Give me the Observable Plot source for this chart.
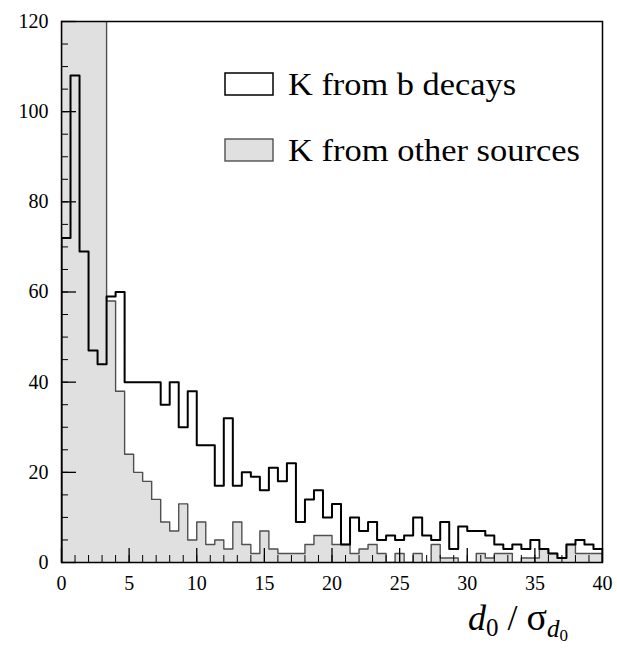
<!DOCTYPE html>
<html><head><meta charset="utf-8">
<script src="https://cdn.jsdelivr.net/npm/d3@7"></script>
<script src="https://cdn.jsdelivr.net/npm/@observablehq/plot@0.6"></script>
<style>
body{margin:0;background:#fff}
#chart{width:617px;height:648px}
#chart svg, #chart svg text { font-family: "Liberation Serif", "Times New Roman", serif !important; }
</style>
</head><body><div id="chart"></div>
<script>
// ---- data ----
const binWidth = 2/3;            // 60 bins over 0..40
const bDecays = [72,108,69,47,44,59,60,40,40,40,40,35,40,30,38,26,26,17,32,17,
                 20,19,16,21,18,22,9,14,16,10,13,4,10,7,9,5,6,5,6,10,
                 6,5,9,3,8,7,7,6,4,3,4,3,5,3,2,1,4,5,4,3];
const otherSources = [200,180,160,140,125,58,38,24,20,18,14,9,7,13,5,9,4,5,3,9,
                      4,2,7,3,2,2,2,4,6,6,4,4,2,3,4,2,0,2,0,2,
                      0,4,1,1,0,0,2,1,2,2,0,1,1,3,2,1,4,2,2,2];
const xTickLabels = [0,5,10,15,20,25,30,35,40];
const yTickLabels = [0,20,40,60,80,100,120];
const legendLabels = ["K from b decays", "K from other sources"];

// ---- layout ----
const W = 617, H = 648, mL = 61, mR = 15, mT = 21, mB = 86;
const innerW = W - mL - mR, innerH = H - mT - mB;

function outline(values) {
  const pts = [{x: 0, y: 0}];
  values.forEach((v, i) => pts.push({x: i * binWidth, y: v}));
  const end = values.length * binWidth;
  pts.push({x: end, y: values[values.length - 1]});
  pts.push({x: end, y: 0});
  return pts;
}
function areaPts(values) {
  const pts = values.map((v, i) => ({x: i * binWidth, y: v}));
  pts.push({x: values.length * binWidth, y: values[values.length - 1]});
  return pts;
}

const xMinor = d3.range(0, 41, 1);
const yMinor = d3.range(0, 121, 5);

const chart = Plot.plot({
  width: W, height: H,
  marginLeft: mL, marginRight: mR, marginTop: mT, marginBottom: mB,
  style: {fontSize: "20px", background: "white", color: "black"},
  x: {domain: [0, 40]},
  y: {domain: [0, 120]},
  marks: [
    Plot.areaY(areaPts(otherSources), {x: "x", y: "y", curve: "step-after", fill: "#e0e0e0", clip: true}),
    Plot.line(outline(otherSources), {x: "x", y: "y", curve: "step-after", stroke: "#505050", strokeWidth: 1.4, clip: true}),
    Plot.line(outline(bDecays), {x: "x", y: "y", curve: "step-after", stroke: "black", strokeWidth: 2, clip: true}),
    Plot.tickX(xMinor, {x: d => d, stroke: "black", strokeWidth: 1, insetTop: innerH - 7}),
    Plot.tickX(xTickLabels, {x: d => d, stroke: "black", strokeWidth: 1.3, insetTop: innerH - 14}),
    Plot.tickY(yMinor, {y: d => d, stroke: "black", strokeWidth: 1, insetRight: innerW - 7}),
    Plot.tickY(yTickLabels, {y: d => d, stroke: "black", strokeWidth: 1.3, insetRight: innerW - 15}),
    Plot.axisX(xTickLabels, {tickSize: 0, tickPadding: 13, label: null}),
    Plot.axisY(yTickLabels, {tickSize: 0, tickPadding: 13, label: null}),
    Plot.frame({stroke: "black", strokeWidth: 1.5})
  ]
});
document.getElementById("chart").appendChild(chart);

// ---- legend and axis title ----
const svg = d3.select(chart);
const g = svg.append("g").style("text-anchor", "start").attr("fill", "black");
g.append("rect").attr("x", 225).attr("y", 73).attr("width", 48).attr("height", 22)
  .attr("fill", "white").attr("stroke", "black").attr("stroke-width", 1.5);
g.append("text").attr("x", 288).attr("y", 95).style("font-size", "32px").style("text-anchor", "start")
  .attr("textLength", 228).attr("lengthAdjust", "spacingAndGlyphs").text(legendLabels[0]);
g.append("rect").attr("x", 225).attr("y", 139).attr("width", 48).attr("height", 22)
  .attr("fill", "#e0e0e0").attr("stroke", "#505050").attr("stroke-width", 1.4);
g.append("text").attr("x", 288).attr("y", 161).style("font-size", "32px").style("text-anchor", "start")
  .attr("textLength", 292).attr("lengthAdjust", "spacingAndGlyphs").text(legendLabels[1]);

const t = g.append("text").attr("x", 468).attr("y", 630).style("font-size", "36px").style("text-anchor", "start");
t.append("tspan").style("font-style", "italic").text("d");
t.append("tspan").style("font-size", "25px").attr("dy", 6).text("0");
t.append("tspan").style("font-size", "36px").attr("dy", -6).text(" / ");
t.append("tspan").style("font-size", "38px").text("σ");
t.append("tspan").style("font-size", "25px").style("font-style", "italic").attr("dy", 7).text("d");
t.append("tspan").style("font-size", "17px").attr("dy", 4).text("0");
</script>
</body></html>
